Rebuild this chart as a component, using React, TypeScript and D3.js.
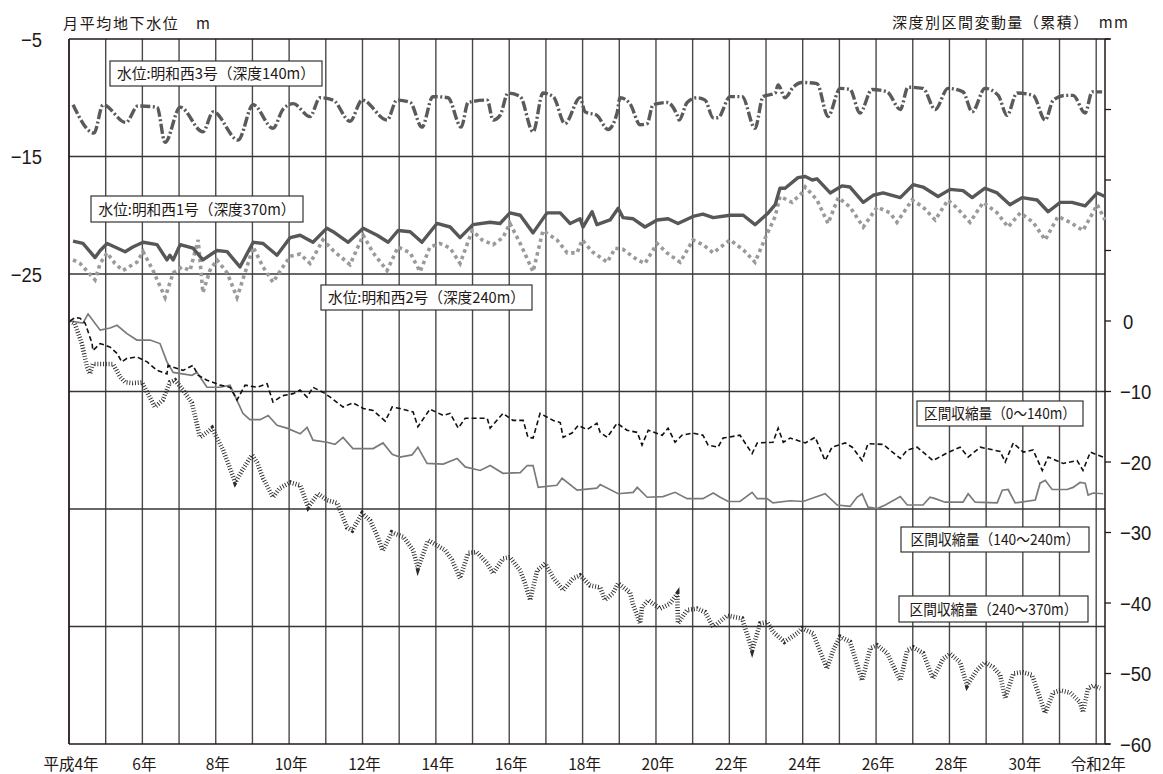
import React from "react";
import * as d3 from "d3";

// ---- axis / tick data ----
const xLabelYears = [0, 2, 4, 6, 8, 10, 12, 14, 16, 18, 20, 22, 24, 26, 28];
const xLabels = ["平成4年", "6年", "8年", "10年", "12年", "14年", "16年", "18年", "20年", "22年", "24年", "26年", "28年", "30年", "令和2年"];
const leftLabelValues = [-5, -15, -25];
const leftGridValues = [-15, -25, -35, -45, -55];
const rightTickValues = [40, 30, 20, 10, 0, -10, -20, -30, -40, -50, -60];
const rightLabelValues = [0, -10, -20, -30, -40, -50, -60];

// ---- series: [years since 平成4年, value] ----
// 水位:明和西3号 (深度140m)  [m]
const well3: [number, number][] = [
  [0.11, -10.6], [0.68, -13.0], [0.93, -10.6], [1.55, -12.1], [1.88, -10.7], [2.4, -10.8], [2.62, -13.8], [3.03, -10.8],
  [3.65, -12.9], [3.93, -11.2], [4.61, -13.6], [5.02, -10.6], [5.56, -12.6], [5.83, -11.0], [6.11, -10.5], [6.57, -11.6],
  [6.84, -10.0], [7.2, -10.2], [7.66, -12.0], [7.99, -10.2], [8.67, -11.9], [8.94, -10.2], [9.3, -10.4], [9.62, -12.5],
  [9.92, -9.9], [10.33, -10.0], [10.69, -12.5], [10.88, -10.4], [11.4, -10.2], [11.56, -11.9], [11.75, -11.5], [11.97, -9.6],
  [12.3, -9.9], [12.65, -12.9], [12.92, -9.6], [13.2, -9.9], [13.52, -12.2], [13.93, -10.0], [14.07, -11.2], [14.39, -11.5],
  [14.69, -12.7], [14.94, -11.3], [15.02, -10.0], [15.29, -10.5], [15.57, -12.3], [15.76, -12.2], [15.92, -10.6], [16.3, -10.4],
  [16.58, -11.5], [16.63, -11.9], [16.85, -10.4], [17.12, -10.0], [17.34, -10.2], [17.56, -11.7], [17.69, -11.7], [18.02, -9.9],
  [18.35, -9.9], [18.7, -12.6], [18.92, -9.9], [19.25, -9.6], [19.33, -8.9], [19.52, -10.0], [19.74, -9.1], [19.98, -8.7],
  [20.39, -8.8], [20.69, -11.6], [21.02, -9.2], [21.29, -9.3], [21.56, -11.3], [21.89, -9.3], [22.3, -9.5], [22.66, -11.0],
  [22.87, -9.1], [23.28, -9.2], [23.61, -11.0], [23.96, -9.2], [24.37, -9.5], [24.62, -11.2], [24.97, -9.2], [25.33, -9.8],
  [25.57, -11.5], [25.84, -9.6], [26.28, -9.8], [26.61, -11.9], [26.83, -10.2], [27.15, -9.8], [27.37, -9.8], [27.7, -11.3],
  [27.89, -9.5], [28.16, -9.5],
];

// 水位:明和西1号 (深度370m)  [m]
const well1: [number, number][] = [
  [0.11, -22.2], [0.38, -22.4], [0.71, -23.6], [0.85, -23.0], [1.04, -22.4], [1.25, -22.7], [1.53, -23.1], [1.74, -22.7],
  [2.02, -22.3], [2.4, -22.5], [2.67, -23.8], [2.75, -23.4], [2.84, -23.8], [3.03, -22.5], [3.38, -22.8], [3.65, -23.8],
  [4.03, -23.0], [4.31, -23.1], [4.66, -24.4], [5.02, -22.3], [5.29, -22.4], [5.67, -23.4], [6.03, -21.9], [6.3, -21.7],
  [6.65, -22.3], [7.03, -21.1], [7.2, -21.4], [7.61, -22.3], [8.02, -21.1], [8.4, -21.7], [8.7, -22.3], [8.97, -21.3],
  [9.3, -21.4], [9.62, -22.3], [10.03, -20.7], [10.39, -21.0], [10.66, -21.9], [11.01, -20.8], [11.48, -20.6], [11.75, -20.7],
  [12.02, -19.8], [12.3, -20.0], [12.65, -21.5], [13.03, -19.8], [13.39, -19.8], [13.66, -20.7], [13.93, -20.3], [14.01, -21.0],
  [14.26, -19.7], [14.39, -20.8], [14.75, -20.4], [14.97, -19.4], [15.1, -20.2], [15.38, -20.3], [15.7, -21.0], [16.03, -20.4],
  [16.33, -20.3], [16.6, -20.7], [17.01, -20.1], [17.28, -19.9], [17.56, -20.2], [18.02, -20.0], [18.38, -20.0], [18.7, -20.8],
  [19.06, -19.8], [19.25, -19.1], [19.38, -17.7], [19.52, -17.7], [19.87, -16.8], [20.07, -16.7], [20.26, -17.0], [20.39, -16.9],
  [20.75, -18.1], [21.07, -17.5], [21.29, -17.6], [21.65, -18.9], [21.92, -18.3], [22.19, -18.1], [22.66, -18.5], [23.01, -17.4],
  [23.28, -17.6], [23.69, -18.4], [24.02, -17.8], [24.37, -17.9], [24.62, -18.5], [24.97, -17.7], [25.3, -18.1], [25.65, -19.1],
  [25.98, -18.5], [26.39, -18.7], [26.69, -19.7], [27.02, -18.9], [27.34, -18.9], [27.7, -19.2], [28.03, -18.1], [28.24, -18.4],
];

// 水位:明和西2号 (深度240m)  [m]
const well2: [number, number][] = [
  [0.11, -23.8], [0.3, -24.1], [0.71, -25.5], [0.85, -24.1], [1.04, -23.2], [1.25, -24.1], [1.47, -24.7], [1.85, -24.0],
  [2.02, -23.1], [2.29, -24.7], [2.62, -27.0], [2.84, -24.9], [3.08, -24.4], [3.3, -24.7], [3.52, -22.1], [3.65, -26.6],
  [3.84, -24.7], [4.03, -23.8], [4.31, -24.9], [4.58, -27.0], [4.88, -24.1], [5.02, -22.7], [5.29, -24.4], [5.56, -25.7],
  [5.83, -24.4], [6.03, -23.5], [6.3, -23.3], [6.57, -24.1], [6.92, -22.1], [7.2, -23.0], [7.66, -24.2], [8.02, -21.7],
  [8.29, -23.2], [8.67, -24.7], [8.97, -22.7], [9.3, -23.2], [9.57, -24.8], [9.84, -22.7], [10.11, -22.4], [10.39, -22.8],
  [10.66, -24.1], [10.99, -21.3], [11.26, -22.1], [11.56, -22.5], [11.83, -21.9], [12.02, -20.7], [12.3, -22.4], [12.65, -24.8],
  [12.92, -21.3], [13.3, -22.1], [13.58, -23.2], [13.85, -23.2], [13.99, -22.1], [14.26, -23.1], [14.67, -24.0], [14.89, -22.8],
  [15.1, -22.9], [15.49, -23.8], [15.7, -24.1], [16.03, -22.4], [16.3, -23.2], [16.66, -24.0], [17.01, -22.1], [17.28, -22.5],
  [17.56, -23.2], [18.02, -22.1], [18.4, -23.0], [18.7, -24.0], [18.97, -22.0], [19.25, -20.1], [19.38, -18.4], [19.71, -18.9],
  [19.98, -18.1], [20.07, -17.6], [20.39, -18.7], [20.69, -20.7], [20.97, -18.5], [21.29, -19.3], [21.65, -21.0], [22.03, -19.3],
  [22.38, -19.8], [22.57, -20.6], [22.98, -18.7], [23.28, -19.3], [23.61, -20.4], [23.96, -18.7], [24.21, -19.4], [24.56, -20.6],
  [24.92, -18.9], [25.3, -19.8], [25.6, -21.0], [25.93, -19.8], [26.28, -20.6], [26.61, -22.1], [26.96, -20.1], [27.29, -20.6],
  [27.64, -21.3], [28.03, -19.1], [28.24, -20.4],
];

// 区間収縮量(0〜140m)  [mm]
const compA: [number, number][] = [
  [0.03, 0], [0.16, 0.5], [0.3, 0.4], [0.44, -0.3], [0.63, -3.2], [0.65, -4.2], [0.85, -3.2], [1.12, -3.7],
  [1.31, -4.6], [1.44, -5.8], [1.58, -5.3], [1.85, -5.1], [2.13, -5.8], [2.4, -7.0], [2.67, -7.5], [2.7, -6.3],
  [3.11, -7.0], [3.38, -6.3], [3.52, -7.7], [3.76, -8.4], [4.12, -9.1], [4.39, -9.4], [4.58, -11.2], [4.8, -9.1],
  [5.13, -9.4], [5.4, -8.9], [5.56, -11.5], [5.81, -10.6], [6.11, -10.3], [6.3, -9.8], [6.49, -10.8], [6.65, -9.4],
  [6.92, -10.1], [7.12, -10.8], [7.47, -12.2], [7.74, -11.6], [8.02, -12.4], [8.29, -12.7], [8.62, -14.2], [8.81, -12.2],
  [9.02, -12.4], [9.38, -12.9], [9.51, -15.0], [9.84, -12.5], [10.2, -13.4], [10.39, -13.1], [10.61, -15.2], [10.8, -13.8],
  [11.21, -13.8], [11.4, -13.8], [11.48, -15.2], [11.83, -13.1], [12.1, -14.1], [12.38, -14.1], [12.51, -16.5], [12.65, -16.6],
  [12.84, -13.1], [13.2, -14.1], [13.39, -14.4], [13.47, -16.5], [13.71, -15.9], [13.88, -14.8], [14.12, -15.4], [14.39, -14.5],
  [14.48, -15.8], [14.67, -16.5], [14.94, -14.5], [15.21, -15.5], [15.49, -15.8], [15.62, -17.6], [15.79, -15.5], [16.17, -16.2],
  [16.33, -15.2], [16.52, -17.2], [16.71, -16.2], [17.01, -15.9], [17.28, -16.2], [17.42, -17.6], [17.69, -17.9], [17.83, -16.6],
  [18.29, -16.2], [18.62, -18.8], [18.76, -17.3], [19.19, -17.2], [19.33, -15.2], [19.47, -17.2], [19.66, -16.6], [20.07, -17.3],
  [20.34, -16.5], [20.61, -19.8], [20.8, -17.9], [21.16, -17.3], [21.35, -17.9], [21.62, -19.8], [21.78, -17.4], [22.19, -17.5],
  [22.66, -19.5], [22.85, -18.3], [23.12, -17.9], [23.55, -19.8], [23.94, -18.7], [24.29, -17.9], [24.51, -19.3], [24.84, -17.9],
  [25.38, -18.5], [25.52, -20.0], [25.74, -17.3], [26.01, -18.6], [26.28, -18.3], [26.53, -21.2], [26.69, -19.3], [27.1, -20.2],
  [27.48, -19.8], [27.64, -21.2], [27.84, -18.6], [28.03, -19.0], [28.19, -19.3],
];

// 区間収縮量(140〜240m)  [mm]
const compB: [number, number][] = [
  [0.03, 0], [0.38, -0.3], [0.52, 1.0], [0.85, -1.3], [1.12, -1.0], [1.31, -0.6], [1.58, -1.8], [1.85, -2.7],
  [2.21, -2.7], [2.48, -3.2], [2.67, -5.8], [2.84, -7.3], [3.35, -7.7], [3.49, -7.3], [3.76, -9.4], [4.12, -9.4],
  [4.39, -9.1], [4.74, -13.1], [4.93, -14.0], [5.21, -14.0], [5.43, -13.4], [5.67, -14.8], [5.94, -15.2], [6.3, -16.0],
  [6.49, -15.1], [6.65, -16.9], [7.03, -17.2], [7.25, -17.5], [7.47, -16.5], [7.74, -18.1], [8.29, -18.1], [8.56, -17.3],
  [8.81, -18.9], [9.02, -19.3], [9.35, -19.0], [9.51, -17.9], [9.76, -20.2], [10.2, -20.3], [10.58, -19.5], [10.8, -20.7],
  [11.21, -21.2], [11.48, -20.5], [11.83, -21.6], [12.3, -21.5], [12.49, -20.5], [12.65, -20.5], [12.79, -23.6], [13.3, -23.3],
  [13.44, -22.3], [13.85, -24.0], [14.39, -23.7], [14.48, -23.2], [14.97, -24.5], [15.38, -24.3], [15.49, -23.6], [15.76, -25.0],
  [16.19, -24.9], [16.52, -24.3], [16.85, -25.2], [17.28, -25.2], [17.56, -24.4], [17.75, -25.0], [17.97, -25.6], [18.29, -25.6],
  [18.62, -24.3], [18.76, -25.2], [19.03, -25.2], [19.19, -25.8], [19.66, -25.5], [20.01, -25.6], [20.61, -24.5], [20.94, -26.1],
  [21.29, -26.3], [21.48, -25.0], [21.62, -24.5], [21.78, -26.4], [22.03, -26.6], [22.25, -26.1], [22.66, -24.9], [22.85, -26.1],
  [23.28, -26.1], [23.47, -25.0], [23.61, -25.2], [23.88, -25.7], [24.37, -25.7], [24.51, -24.5], [24.7, -25.7], [25.3, -25.8],
  [25.44, -24.0], [25.6, -23.9], [25.79, -25.8], [26.34, -25.4], [26.47, -23.0], [26.61, -22.6], [26.8, -23.9], [27.21, -23.9],
  [27.37, -23.6], [27.56, -22.9], [27.7, -23.0], [27.78, -24.7], [27.92, -24.4], [28.19, -24.5],
];

// 区間収縮量(240〜370m)  [mm]
const compC: [number, number][] = [
  [0.03, 0], [0.16, -0.4], [0.35, -3.2], [0.49, -6.5], [0.57, -7.5], [0.65, -6.1], [0.93, -6.1], [1.2, -6.1],
  [1.39, -7.9], [1.53, -8.7], [1.74, -8.8], [1.99, -8.7], [2.15, -10.3], [2.34, -12.2], [2.56, -11.2], [2.75, -8.7],
  [2.89, -8.4], [3.11, -9.8], [3.35, -11.6], [3.57, -16.5], [3.76, -15.8], [3.9, -15.2], [4.2, -18.3], [4.53, -22.9],
  [4.72, -21.2], [4.99, -19.0], [5.13, -20.1], [5.29, -22.3], [5.56, -25.0], [5.75, -23.7], [6.03, -22.9], [6.3, -23.3],
  [6.52, -26.4], [6.79, -24.5], [7.03, -25.4], [7.31, -25.8], [7.58, -29.3], [7.72, -29.7], [7.99, -27.3], [8.21, -28.3],
  [8.42, -30.7], [8.55, -32.6], [8.8, -30.0], [9.11, -30.6], [9.38, -32.5], [9.51, -35.1], [9.79, -31.1], [10.25, -32.5],
  [10.44, -33.9], [10.66, -36.5], [10.88, -32.9], [11.12, -32.8], [11.4, -34.4], [11.56, -35.8], [11.83, -33.7], [12.02, -33.5],
  [12.3, -35.4], [12.43, -37.2], [12.57, -39.6], [12.76, -35.4], [12.98, -34.4], [13.2, -36.4], [13.47, -38.2], [13.74, -36.5],
  [13.93, -36.1], [14.2, -37.5], [14.48, -37.8], [14.61, -39.6], [14.83, -38.6], [14.97, -37.2], [15.29, -38.5], [15.38, -40.3],
  [15.57, -42.9], [15.62, -40.6], [15.79, -39.6], [16.11, -40.8], [16.38, -40.1], [16.58, -38.7], [16.6, -42.9], [16.85, -41.0],
  [17.12, -40.8], [17.34, -41.3], [17.56, -43.4], [17.94, -41.8], [18.35, -42.2], [18.62, -46.7], [18.84, -42.9], [19.03, -42.7],
  [19.19, -44.1], [19.5, -45.5], [19.85, -44.3], [19.98, -43.6], [20.28, -44.3], [20.66, -49.3], [20.83, -46.7], [21.02, -44.8],
  [21.29, -45.5], [21.62, -51.0], [21.84, -46.4], [22.03, -46.0], [22.3, -47.1], [22.66, -51.0], [22.85, -46.7], [23.01, -46.3],
  [23.28, -47.1], [23.55, -50.7], [23.83, -47.9], [24.02, -47.2], [24.29, -48.4], [24.48, -51.7], [24.75, -49.5], [24.97, -48.4],
  [25.19, -49.1], [25.38, -50.2], [25.52, -53.5], [25.74, -50.0], [25.98, -49.8], [26.25, -50.2], [26.61, -55.6], [26.83, -52.7],
  [27.02, -52.4], [27.29, -52.7], [27.56, -54.1], [27.64, -55.5], [27.78, -52.1], [27.92, -51.7], [28.11, -52.1],
];

const W = 1163;
const H = 774;
const JP = "'Noto Sans CJK JP', sans-serif";
const NUM = "'Liberation Sans', Arial, sans-serif";

const x = d3.scaleLinear().domain([0, 28.24]).range([69, 1105]);
const yL = d3.scaleLinear().domain([-65, -5]).range([744, 39]);
const yR = d3.scaleLinear().domain([-60, 40]).range([744, 39]);

const lineL = d3.line<[number, number]>().x((d) => x(d[0])).y((d) => yL(d[1]));
const lineLs = d3.line<[number, number]>().x((d) => x(d[0])).y((d) => yL(d[1])).curve(d3.curveMonotoneX);
const lineR = d3.line<[number, number]>().x((d) => x(d[0])).y((d) => yR(d[1]));

const yearLines = d3.range(0, 29);

const boxes = [
  { x: 110, y: 61, w: 212, h: 25, tl: 198, text: "水位:明和西3号（深度140m）" },
  { x: 91, y: 196, w: 212, h: 26, tl: 197, text: "水位:明和西1号（深度370m）" },
  { x: 321, y: 285, w: 211, h: 25, tl: 197, text: "水位:明和西2号（深度240m）" },
  { x: 917, y: 401, w: 166, h: 25, tl: 152, text: "区間収縮量（0〜140m）" },
  { x: 901, y: 527, w: 188, h: 25, tl: 169, text: "区間収縮量（140〜240m）" },
  { x: 899, y: 596, w: 189, h: 26, tl: 168, text: "区間収縮量（240〜370m）" },
];

export default function App() {
  const minus = (v: number) => (v < 0 ? "\u2212" + Math.abs(v) : String(v));
  return (
    <svg width={W} height={H} style={{ position: "absolute", left: 0, top: 0, background: "#fff" }}>
      <rect x={0} y={0} width={W} height={H} fill="#fff" />
      {/* vertical year grid */}
      {yearLines.map((t) => (
        <line key={"v" + t} x1={x(t)} x2={x(t)} y1={39} y2={744} stroke="#4d4848" strokeWidth={1.4} />
      ))}
      {/* horizontal grid */}
      {leftGridValues.map((v) => (
        <line key={"h" + v} x1={69} x2={1105} y1={yL(v)} y2={yL(v)} stroke="#3a3535" strokeWidth={1.5} />
      ))}
      {/* frame */}
      <line x1={69} x2={1110} y1={39} y2={39} stroke="#231815" strokeWidth={1.5} />
      <line x1={69} x2={1110} y1={744} y2={744} stroke="#231815" strokeWidth={1.5} />
      <line x1={69} x2={69} y1={39} y2={744} stroke="#231815" strokeWidth={1.5} />
      <line x1={1105} x2={1105} y1={39} y2={744} stroke="#231815" strokeWidth={1.5} />
      {rightTickValues.map((v) => (
        <line key={"rt" + v} x1={1105} x2={1111} y1={yR(v)} y2={yR(v)} stroke="#231815" strokeWidth={1.3} />
      ))}

      {/* water level lines */}
      <path d={lineL(well2) || ""} fill="none" stroke="#9a9a9a" strokeWidth={3.6} strokeDasharray="3.5,3.5" />
      <path d={lineL(well1) || ""} fill="none" stroke="#575757" strokeWidth={3.4} strokeLinejoin="round" />
      <path d={lineLs(well3) || ""} fill="none" stroke="#5a5a5a" strokeWidth={3.4} strokeDasharray="10,2.5,2,2.5" strokeLinejoin="round" />

      {/* compaction lines */}
      <path d={lineR(compB) || ""} fill="none" stroke="#7a7a7a" strokeWidth={1.7} />
      <path d={lineR(compA) || ""} fill="none" stroke="#111" strokeWidth={1.6} strokeDasharray="5,3" />
      <path d={lineR(compC) || ""} fill="none" stroke="#2a2a2a" strokeWidth={4.6} strokeDasharray="0.9,1.9" />

      {/* label boxes */}
      {boxes.map((b, i) => (
        <g key={"b" + i}>
          <rect x={b.x} y={b.y} width={b.w} height={b.h} fill="#fff" stroke="#333" strokeWidth={1.2} />
          <text
            x={b.x + b.w / 2}
            y={b.y + b.h / 2 + 5.5}
            textAnchor="middle"
            fontFamily={JP}
            fontSize={15}
            fill="#231815"
            textLength={b.tl}
            lengthAdjust="spacingAndGlyphs"
          >
            {b.text}
          </text>
        </g>
      ))}

      {/* left axis labels */}
      {leftLabelValues.map((v) => (
        <text
          key={"ll" + v}
          transform={`translate(42,${yL(v) + 7.5}) scale(0.9,1)`}
          textAnchor="end"
          fontFamily={NUM}
          fontSize={20.5}
          fill="#231815"
        >
          {minus(v)}
        </text>
      ))}
      {/* right axis labels */}
      {rightLabelValues.map((v) => (
        <text
          key={"rl" + v}
          transform={`translate(${v === 0 ? 1123 : 1120},${yR(v) + 7.5}) scale(0.9,1)`}
          textAnchor="start"
          fontFamily={NUM}
          fontSize={20.5}
          fill="#231815"
        >
          {minus(v)}
        </text>
      ))}
      {/* x labels */}
      {xLabelYears.map((t, i) => (
        <text key={"xl" + t} x={x(t) + 2} y={770} textAnchor="middle" fontFamily={JP} fontSize={15.5} fill="#231815">
          {xLabels[i]}
        </text>
      ))}

      {/* titles */}
      <text x={63} y={29} fontFamily={JP} fontSize={15} fill="#231815" textLength={147} lengthAdjust="spacing">
        月平均地下水位　m
      </text>
      <text x={892} y={28} fontFamily={JP} fontSize={15} fill="#231815" textLength={236} lengthAdjust="spacing">
        深度別区間変動量（累積）　mm
      </text>
    </svg>
  );
}
